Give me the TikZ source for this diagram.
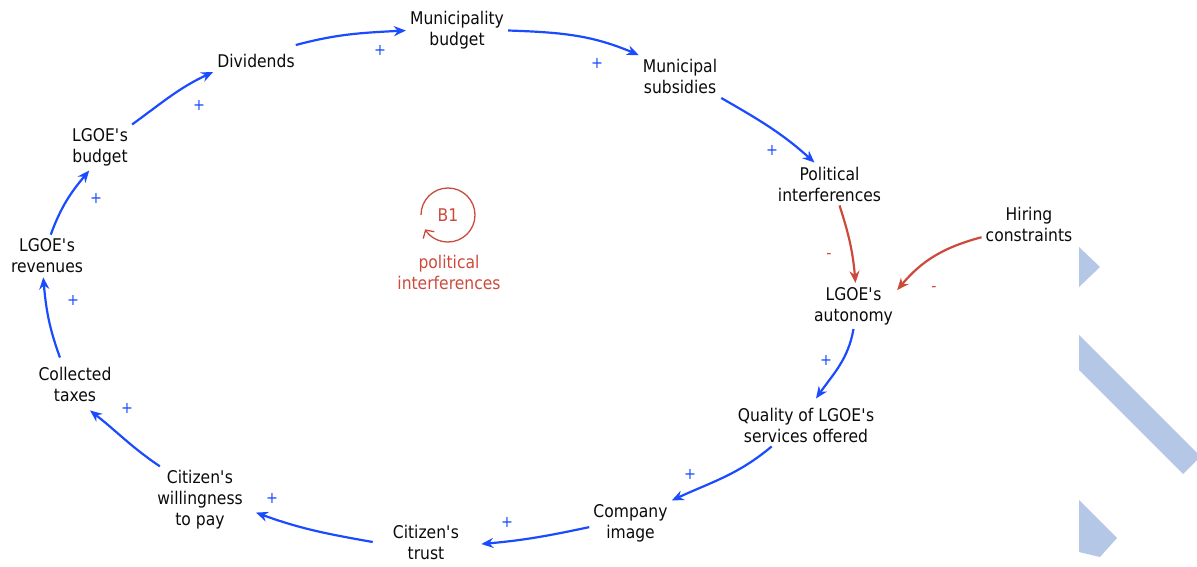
\documentclass[tikz,border=0pt]{standalone}
\usepackage{fontspec}
\setmainfont[FakeStretch=0.89]{DejaVu Sans}
\usetikzlibrary{arrows.meta}
\definecolor{cldblue}{HTML}{1A4BFF}
\definecolor{cldred}{HTML}{CC4A3C}
\definecolor{stripecol}{HTML}{B4C7E7}
\definecolor{txtcol}{HTML}{0A0A0A}
\newcommand{\apos}{\textquotesingle}
\tikzset{
  var/.style={align=center, inner sep=4pt, font=\fontsize{17.5}{21}\selectfont, text=txtcol},
  posarrow/.style={-{Stealth[length=12pt,width=10pt]}, line width=2.2pt, draw=cldblue},
  negarrow/.style={-{Stealth[length=12pt,width=10pt]}, line width=2.2pt, draw=cldred},
  plussign/.style={text=cldblue, font=\fontsize{16}{16}\selectfont, inner sep=0pt},
  minussign/.style={text=cldred, font=\fontsize{16}{16}\selectfont, inner sep=0pt},
  looptext/.style={align=center, inner sep=0pt, text=cldred, font=\fontsize{17.5}{21}\selectfont},
  looparc/.style={draw=cldred, line width=1.3pt, -{Straight Barb[length=6pt,width=13pt]}},
}
\begin{document}
\begin{tikzpicture}[x=1pt,y=1pt]
\useasboundingbox (0,0) rectangle (1197,-567);
% decorative stripes
\fill[stripecol] (1079,-247) -- (1100,-267) -- (1079,-287) -- cycle;
\fill[stripecol] (1079,-335) -- (1197,-453) -- (1197,-460) -- (1183,-474) -- (1079,-370) -- cycle;
\fill[stripecol] (1079,-500) -- (1117,-538) -- (1100,-557) -- (1079,-552) -- cycle;

% variables
\node[var] (mb)  at (457,-30.5) {Municipality\\budget};
\node[var] (ms)  at (680,-76.5) {Municipal\\subsidies};
\node[var] (div) at (256,-61) {Dividends};
\node[var] (lb)  at (100,-147.5) {LGOE\apos s\\budget};
\node[var] (rev) at (47,-256) {LGOE\apos s\\revenues};
\node[var] (tax) at (75,-384) {Collected\\taxes};
\node[var] (cw)  at (200,-500) {Citizen\apos s\\willingness\\to pay};
\node[var] (ct)  at (426,-542) {Citizen\apos s\\trust};
\node[var] (ci)  at (630.5,-523.5) {Company\\image};
\node[var] (q)   at (806,-425) {Quality of LGOE\apos s\\services offered};
\node[var] (la)  at (853.5,-306) {LGOE\apos s\\autonomy};
\node[var] (pi)  at (829.5,-184) {Political\\interferences};
\node[var] (hc)  at (1029,-224.5) {Hiring\\constraints};

% loop marker
\node[looptext] (b1) at (448,-215) {B1};
\node[looptext] (b1lab) at (449,-272) {political\\interferences};
\draw[looparc] ([shift={(180:27pt)}]b1.center) arc[start angle=180, end angle=-148, radius=27pt];

% links
\draw[posarrow] ([shift={(-3pt,5pt)}]div.north east) to[out=15,in=183] (mb.west);
\draw[posarrow] (mb.east) to[out=-2,in=157] (ms.north west);
\draw[posarrow] (ms.south east) to[out=-30,in=138] (pi.125);
\draw[negarrow] (pi.-65) to[out=-72,in=95] (la.85);
\draw[negarrow] (hc.195) to[out=195,in=50] (la.20);
\draw[posarrow] (la.south) to[out=-100,in=55] ([yshift=5pt]q.65);
\draw[posarrow] (q.212) to[out=220,in=25] (ci.north east);
\draw[posarrow] (ci.185) to[out=192,in=5] ([shift={(18pt,-2pt)}]ct.east);
\draw[posarrow] ([xshift=-16pt]ct.west) to[out=170,in=-20] ([xshift=9pt]cw.-15);
\draw[posarrow] (cw.140) to[out=146,in=-38] ([yshift=-5pt]tax.-55);
\draw[posarrow] ([yshift=5pt]tax.125) to[out=110,in=-85] (rev.-100);
\draw[posarrow] (rev.80) to[out=70,in=-130] (lb.-115);
\draw[posarrow] (lb.north east) to[out=36,in=205] (div.south west);

% polarities
\node[plussign] (p1)  at (380,-50) {+};
\node[plussign] (p2)  at (597,-63) {+};
\node[plussign] (p3)  at (772,-150) {+};
\node[minussign] (m1) at (829,-256) {-};
\node[minussign] (m2) at (934,-289) {-};
\node[plussign] (p4)  at (826,-360) {+};
\node[plussign] (p5)  at (690,-474) {+};
\node[plussign] (p6)  at (507,-522) {+};
\node[plussign] (p7)  at (272,-498) {+};
\node[plussign] (p8)  at (127,-408) {+};
\node[plussign] (p9)  at (73,-300) {+};
\node[plussign] (p10) at (96,-198) {+};
\node[plussign] (p11) at (199,-105) {+};
\end{tikzpicture}
\end{document}
